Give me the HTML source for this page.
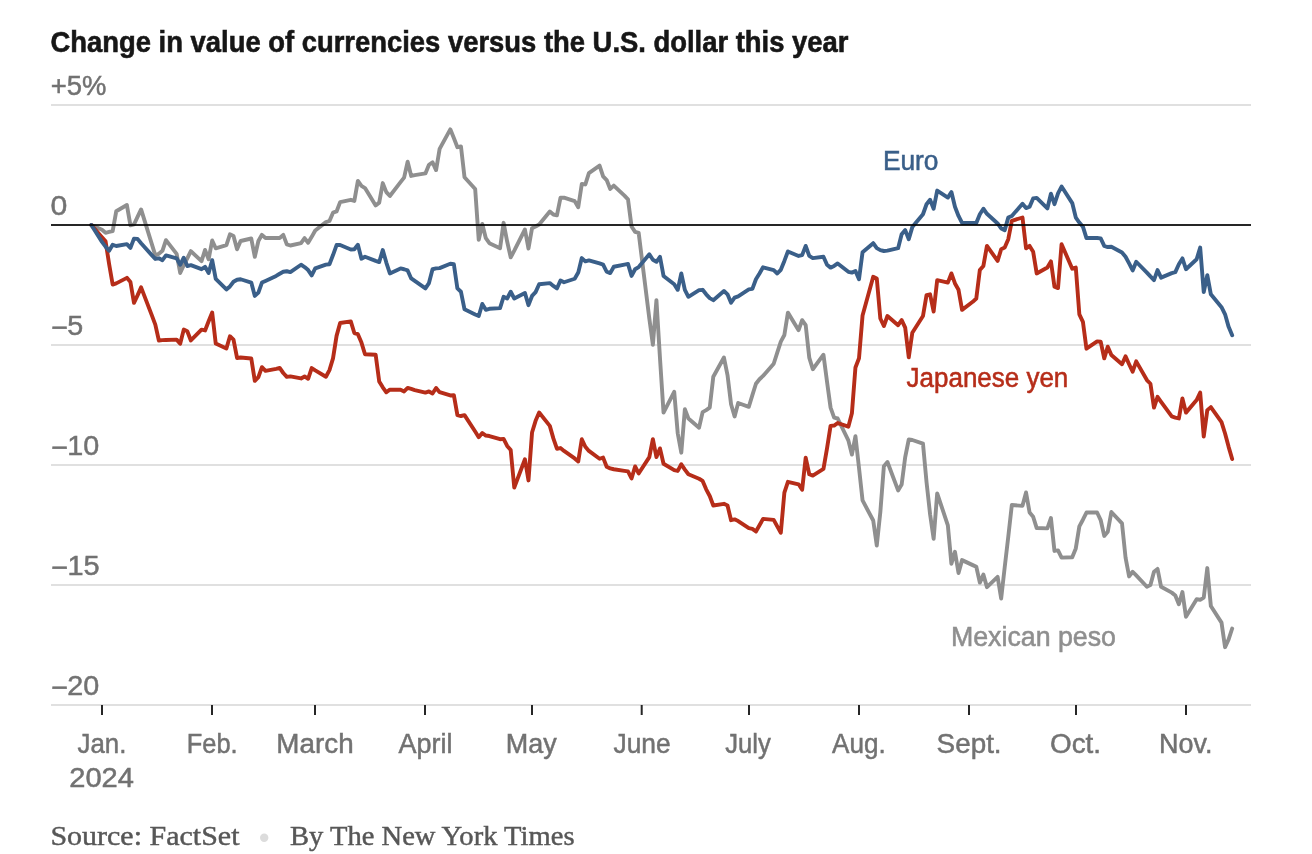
<!DOCTYPE html>
<html><head><meta charset="utf-8"><title>Change in value of currencies versus the U.S. dollar this year</title>
<style>
html,body{margin:0;padding:0;background:#fff;}
body{width:1312px;height:854px;overflow:hidden;font-family:"Liberation Sans",sans-serif;}
svg{display:block;position:absolute;left:0;top:0;}
text{font-family:"Liberation Sans",sans-serif;}
.serif{font-family:"Liberation Serif",serif;}
.ax{fill:#727272;stroke:#727272;stroke-width:0.5;}
.ln{fill:none;stroke-width:3.9;stroke-linejoin:round;stroke-linecap:round;}
</style></head><body>
<svg width="1312" height="854" viewBox="0 0 1312 854">
<rect width="1312" height="854" fill="#ffffff"/>
<text transform="translate(50.50,51.9) scale(0.9356,1)" font-size="29.3" fill="#161616" font-weight="700" stroke="#161616" stroke-width="0.6">Change in value of currencies versus the U.S. dollar this year</text>
<rect x="51" y="104" width="1200" height="2" fill="#e0e0e0"/>
<rect x="51" y="344" width="1200" height="2" fill="#e0e0e0"/>
<rect x="51" y="464" width="1200" height="2" fill="#e0e0e0"/>
<rect x="51" y="584" width="1200" height="2" fill="#e0e0e0"/>
<rect x="51" y="704" width="1200" height="2" fill="#e0e0e0"/>
<text class="ax" transform="translate(50.63,95.1) scale(0.9690,1)" font-size="28.3">+5%</text>
<text class="ax" transform="translate(50.59,215.1) scale(1.0674,1)" font-size="28.3">0</text>
<text class="ax" transform="translate(50.57,335.1) scale(1.0130,1)" font-size="28.3"><tspan dx="0.6" dy="1.9">−</tspan><tspan dx="-0.6" dy="-1.9">5</tspan></text>
<text class="ax" transform="translate(50.56,455.1) scale(1.0162,1)" font-size="28.3"><tspan dx="0.6" dy="1.9">−</tspan><tspan dx="-0.6" dy="-1.9">10</tspan></text>
<text class="ax" transform="translate(50.55,575.1) scale(1.0225,1)" font-size="28.3"><tspan dx="0.6" dy="1.9">−</tspan><tspan dx="-0.6" dy="-1.9">15</tspan></text>
<text class="ax" transform="translate(50.56,695.1) scale(1.0162,1)" font-size="28.3"><tspan dx="0.6" dy="1.9">−</tspan><tspan dx="-0.6" dy="-1.9">20</tspan></text>
<rect x="101" y="705" width="2" height="10" fill="#262626"/>
<rect x="211" y="705" width="2" height="10" fill="#262626"/>
<rect x="314" y="705" width="2" height="10" fill="#262626"/>
<rect x="424" y="705" width="2" height="10" fill="#262626"/>
<rect x="531" y="705" width="2" height="10" fill="#262626"/>
<rect x="640.7" y="705" width="2" height="10" fill="#262626"/>
<rect x="748" y="705" width="2" height="10" fill="#262626"/>
<rect x="858" y="705" width="2" height="10" fill="#262626"/>
<rect x="968" y="705" width="2" height="10" fill="#262626"/>
<rect x="1075" y="705" width="2" height="10" fill="#262626"/>
<rect x="1185" y="705" width="2" height="10" fill="#262626"/>
<text class="ax" transform="translate(77.48,752.6) scale(0.9397,1)" font-size="27.5">Jan.</text>
<text class="ax" transform="translate(186.77,752.6) scale(0.9240,1)" font-size="27.5">Feb.</text>
<text class="ax" transform="translate(276.37,752.6) scale(1.0121,1)" font-size="27.5">March</text>
<text class="ax" transform="translate(398.40,752.6) scale(0.9816,1)" font-size="27.5">April</text>
<text class="ax" transform="translate(505.84,752.6) scale(0.9804,1)" font-size="27.5">May</text>
<text class="ax" transform="translate(613.47,752.6) scale(0.9593,1)" font-size="27.5">June</text>
<text class="ax" transform="translate(725.29,752.6) scale(0.9330,1)" font-size="27.5">July</text>
<text class="ax" transform="translate(832.10,752.6) scale(0.9488,1)" font-size="27.5">Aug.</text>
<text class="ax" transform="translate(936.61,752.6) scale(1.0129,1)" font-size="27.5">Sept.</text>
<text class="ax" transform="translate(1050.01,752.6) scale(1.0113,1)" font-size="27.5">Oct.</text>
<text class="ax" transform="translate(1159.04,752.6) scale(0.9804,1)" font-size="27.5">Nov.</text>
<text class="ax" transform="translate(69.25,786.9) scale(1.0569,1)" font-size="27.5">2024</text>
<path class="ln" stroke="#8f8f8f" d="M91.34,225 L102,229.85 L105.56,232.86 L109.11,231.98 L112.66,231.1 L116.22,211.3 L126.88,205.04 L130.43,225.34 L133.99,224.46 L137.54,216.94 L141.1,209.42 L151.76,243.88 L155.31,255.41 L158.87,253.66 L162.42,250.78 L165.97,240.13 L176.64,253.91 L180.19,272.96 L183.74,265.19 L187.3,258.3 L190.85,251.15 L201.51,261.18 L205.07,249.9 L208.62,259.3 L212.18,240.5 L215.73,248.27 L226.39,245.14 L229.95,234.34 L233.5,236.01 L237.05,249.36 L240.61,241.01 L251.27,238.51 L254.82,256.87 L258.38,241.01 L261.93,234.84 L265.49,238.01 L276.15,238.01 L279.7,238.01 L283.26,234.84 L286.81,244.35 L290.36,245.52 L301.03,243.18 L304.58,238.18 L308.13,242.68 L311.69,236.84 L315.24,230.5 L325.9,222.15 L329.46,220.98 L333.01,212.64 L336.57,211.47 L340.12,202.12 L350.78,199.79 L354.34,200.95 L357.89,180.92 L361.44,185.93 L365,188.1 L375.66,205.46 L379.21,202.62 L382.77,183.09 L386.32,192.11 L389.88,195.95 L400.54,182.09 L404.09,177.59 L407.65,161.73 L411.2,175.92 L414.75,175.08 L425.42,173.41 L428.97,164.73 L432.52,162.23 L436.08,170.08 L439.63,148.88 L450.29,129.35 L453.85,138.03 L457.4,147.21 L460.96,146.38 L464.51,177.26 L475.17,188.94 L478.73,239.85 L482.28,223.99 L485.83,238.18 L489.39,243.19 L500.05,248.2 L503.6,222.82 L507.16,241.52 L510.71,257.38 L514.27,250.7 L524.93,229.5 L528.48,248.53 L532.04,228.17 L535.59,226.5 L539.14,224.49 L549.81,211.47 L553.36,214.48 L556.91,215.31 L560.47,197.79 L564.02,197.62 L574.68,201.12 L578.24,207.3 L581.79,183.93 L585.35,184.43 L588.9,173.08 L599.56,165.57 L603.12,176.42 L606.67,180.09 L610.22,188.94 L613.78,185.6 L624.44,195.62 L627.99,199.29 L631.55,226.5 L635.1,231.84 L638.66,232.84 L649.32,318.47 L652.87,344.85 L656.43,300.11 L659.98,358.06 L663.53,412.64 L674.2,391.77 L677.75,433.5 L681.3,452.7 L684.86,409.3 L688.41,418.48 L699.07,427.66 L702.63,412.14 L706.18,410.14 L709.74,407.63 L713.29,376.75 L723.95,357.56 L727.51,375.08 L731.06,404.29 L734.61,416.48 L738.17,402.96 L748.83,406.8 L752.38,395.11 L755.94,383.76 L759.49,379.26 L763.05,375.92 L773.71,363.73 L777.26,352.55 L780.82,341.7 L784.37,335.02 L787.92,312.63 L798.59,330.16 L802.14,320.14 L805.69,325.15 L809.25,357.56 L812.8,369.24 L823.46,354.72 L827.02,381.76 L830.57,407.63 L834.13,417.65 L837.68,418.48 L848.34,440.35 L851.9,454.53 L855.45,436.17 L859,467.89 L862.56,500.44 L873.22,520.47 L876.77,545.5 L880.33,512.12 L883.88,466.22 L887.44,462.05 L898.1,490.42 L901.65,484.58 L905.21,457.04 L908.76,439.51 L912.31,440.01 L922.98,443.68 L926.53,482.08 L930.08,514.2 L933.64,538.74 L937.19,493.34 L947.85,525.39 L951.41,563.78 L954.96,551.76 L958.52,572.96 L962.07,560.11 L972.73,565.11 L976.29,566.78 L979.84,582.64 L983.39,574.63 L986.95,587.15 L997.61,576.8 L1001.16,598.5 L1004.72,567.12 L1008.27,536.74 L1011.83,505.02 L1022.49,505.86 L1026.04,492.5 L1029.6,512.53 L1033.15,516.71 L1036.7,528.06 L1047.37,528.39 L1050.92,518.04 L1054.47,550.92 L1058.03,550.42 L1061.58,557.6 L1072.24,557.27 L1075.8,548.42 L1079.35,526.39 L1082.91,519.71 L1086.46,512.53 L1097.12,512.53 L1100.68,520.05 L1104.23,535.9 L1107.78,531.73 L1111.34,512.03 L1122,523.38 L1125.55,557.6 L1129.11,576.42 L1132.66,571.74 L1136.22,575.42 L1146.88,586.77 L1150.43,585.1 L1153.99,571.74 L1157.54,568.91 L1161.09,586.77 L1171.76,592.61 L1175.31,595.45 L1178.86,604.29 L1182.42,592.11 L1185.97,616.81 L1196.63,599.29 L1200.19,599.79 L1203.74,597.62 L1207.3,568.07 L1210.85,605.96 L1221.51,622.65 L1225.07,647.19 L1228.62,639.35 L1232.17,628.5"/>
<path class="ln" stroke="#b62d19" d="M91.34,225 L102,237.24 L105.56,241.25 L109.11,263.93 L112.66,284.53 L116.22,283.37 L126.88,277.86 L130.43,282.03 L133.99,302.89 L137.54,295.38 L141.1,287.37 L151.76,315.08 L155.31,324.59 L158.87,340.45 L162.42,340.12 L165.97,339.95 L176.64,339.62 L180.19,343.79 L183.74,329.6 L187.3,331.27 L190.85,340.45 L201.51,329.6 L205.07,330.44 L208.62,321.26 L212.18,312.58 L215.73,343.46 L226.39,348.46 L229.95,336.28 L233.5,339.62 L237.05,357.98 L240.61,357.48 L251.27,358.48 L254.82,380.84 L258.38,377.17 L261.93,367.16 L265.49,370.83 L276.15,368.83 L279.7,367.99 L283.26,373 L286.81,376.84 L290.36,376.34 L301.03,378.45 L304.58,376.45 L308.13,378.78 L311.69,368.1 L315.24,370.44 L325.9,376.78 L329.46,370.11 L333.01,358.42 L336.57,335.89 L340.12,323.03 L350.78,321.37 L354.34,333.05 L357.89,334.22 L361.44,342.56 L365,354.25 L375.66,354.75 L379.21,381.46 L382.77,387.3 L386.32,392.31 L389.88,389.63 L400.54,389.8 L404.09,391.47 L407.65,387.97 L411.2,388.97 L414.75,390.14 L425.42,392.64 L428.97,391.47 L432.52,393.47 L436.08,387.97 L439.63,392.14 L450.29,395.48 L453.85,395.14 L457.4,415.17 L460.96,416.01 L464.51,415.17 L475.17,431.53 L478.73,437.21 L482.28,433.03 L485.83,435.54 L489.39,436.04 L500.05,439.23 L503.6,438.89 L507.16,445.9 L510.71,450.08 L514.27,487.63 L524.93,459.26 L528.48,480.45 L532.04,432.55 L535.59,420.86 L539.14,412.52 L549.81,425.87 L553.36,438.39 L556.91,448.74 L560.47,448.07 L564.02,450.91 L574.68,458.42 L578.24,461.43 L581.79,439.23 L585.35,446.74 L588.9,450.91 L599.56,458.75 L603.12,457.59 L606.67,466.77 L610.22,468.44 L613.78,469.27 L624.44,470.94 L627.99,471.44 L631.55,478.45 L635.1,466.43 L638.66,473.44 L649.32,457.09 L652.87,439.23 L656.43,457.09 L659.98,448.41 L663.53,463.76 L674.2,470.11 L677.75,470.94 L681.3,464.26 L684.86,469.6 L688.41,474.28 L699.07,478.78 L702.63,480.95 L706.18,489.3 L709.74,495.98 L713.29,505.49 L723.95,503.82 L727.51,505.49 L731.06,520.18 L734.61,519.35 L738.17,521.01 L748.83,528.19 L752.38,528.86 L755.94,531.53 L759.49,525.19 L763.05,518.84 L773.71,519.85 L777.26,526.36 L780.82,532.7 L784.37,492.64 L787.92,481.79 L798.59,484.29 L802.14,489.8 L805.69,457.59 L809.25,474.28 L812.8,475.61 L823.46,468.94 L827.02,448.41 L830.57,425.87 L834.13,425.54 L837.68,423.03 L848.34,426.71 L851.9,413.35 L855.45,367.45 L859,358.22 L862.56,315.49 L873.22,276.77 L876.77,278.44 L880.33,318.5 L883.88,326.01 L887.44,315.99 L898.1,325.17 L901.65,320.17 L905.21,327.68 L908.76,357.39 L912.31,332.68 L922.98,315.99 L926.53,295.13 L930.08,294.29 L933.64,311.49 L937.19,280.11 L947.85,282.61 L951.41,273.43 L954.96,283.44 L958.52,289.79 L962.07,309.82 L972.73,301.8 L976.29,298.47 L979.84,270.09 L983.39,265.92 L986.95,245.89 L997.61,260.91 L1001.16,249.23 L1004.72,247.56 L1008.27,239.21 L1011.83,220.85 L1022.49,217.51 L1026.04,248.39 L1029.6,245.89 L1033.15,251.73 L1036.7,273.43 L1047.37,267.56 L1050.92,261.38 L1054.47,286.75 L1058.03,288.09 L1061.58,244.19 L1072.24,268.72 L1075.8,267.56 L1079.35,314.29 L1082.91,321.8 L1086.46,348.69 L1097.12,341.35 L1100.68,341.68 L1104.23,358.38 L1107.78,346.69 L1111.34,355.04 L1122,364.22 L1125.55,356.37 L1129.11,364.22 L1132.66,371.73 L1136.22,361.38 L1146.88,380.08 L1150.43,383.75 L1153.99,407.62 L1157.54,396.77 L1161.09,401.77 L1171.76,416.46 L1175.31,417.63 L1178.86,418.47 L1182.42,398.44 L1185.97,412.62 L1196.63,400.11 L1200.19,392.59 L1203.74,436.49 L1207.3,410.12 L1210.85,407.12 L1221.51,422.14 L1225.07,433.49 L1228.62,446.84 L1232.17,459.03"/>
<path class="ln" stroke="#3a5f89" d="M91.34,225 L102,241.88 L105.56,246.64 L109.11,250.78 L112.66,244.76 L116.22,246.02 L126.88,244.14 L130.43,247.89 L133.99,238.62 L137.54,238.87 L141.1,243.26 L151.76,255.16 L155.31,258.92 L158.87,258.3 L162.42,260.18 L165.97,255.41 L176.64,258.3 L180.19,264.81 L183.74,257.67 L187.3,266.07 L190.85,265.19 L201.51,269.2 L205.07,266.82 L208.62,272.96 L212.18,260.18 L215.73,278.97 L226.39,289.37 L229.95,286.44 L233.5,281.77 L237.05,279.76 L240.61,279.26 L251.27,282.6 L254.82,295.95 L258.38,292.62 L261.93,282.6 L265.49,280.93 L276.15,275.92 L279.7,273.75 L283.26,271.75 L286.81,271.25 L290.36,272.09 L301.03,264.74 L304.58,267.08 L308.13,270.08 L311.69,275.42 L315.24,268.41 L325.9,264.57 L329.46,264.24 L333.01,255.06 L336.57,245.05 L340.12,245.05 L350.78,249.55 L354.34,249.22 L357.89,244.71 L361.44,258.73 L365,256.73 L375.66,260.9 L379.21,262.07 L382.77,250.05 L386.32,262.57 L389.88,273.42 L400.54,268.41 L404.09,269.25 L407.65,270.42 L411.2,278.43 L414.75,280.93 L425.42,288.44 L428.97,283.1 L432.52,269.25 L436.08,268.41 L439.63,268.08 L450.29,263.74 L453.85,264.24 L457.4,288.44 L460.96,291.78 L464.51,309.31 L475.17,314.48 L478.73,315.98 L482.28,303.97 L485.83,309.81 L489.39,308.81 L500.05,308.14 L503.6,296.79 L507.16,298.46 L510.71,291.78 L514.27,298.46 L524.93,292.95 L528.48,305.14 L532.04,295.95 L535.59,292.12 L539.14,284.27 L549.81,283.1 L553.36,285.94 L556.91,288.44 L560.47,280.43 L564.02,282.27 L574.68,278.76 L578.24,272.59 L581.79,258.06 L585.35,261.4 L588.9,260.4 L599.56,263.41 L603.12,264.57 L606.67,271.75 L610.22,273.09 L613.78,266.74 L624.44,264.57 L627.99,263.91 L631.55,275.92 L635.1,269.25 L638.66,267.08 L649.32,254.26 L652.87,259.77 L656.43,261.77 L659.98,256.77 L663.53,275.96 L674.2,284.31 L677.75,289.82 L681.3,273.46 L684.86,289.82 L688.41,296.83 L699.07,290.15 L702.63,289.82 L706.18,294.32 L709.74,298.16 L713.29,300.17 L723.95,290.98 L727.51,294.32 L731.06,302.67 L734.61,297.66 L738.17,296.33 L748.83,289.32 L752.38,288.81 L755.94,279.3 L759.49,273.46 L763.05,267.28 L773.71,270.12 L777.26,273.46 L780.82,269.79 L784.37,260.94 L787.92,251.43 L798.59,255.93 L802.14,255.1 L805.69,245.92 L809.25,255.93 L812.8,258.1 L823.46,256.77 L827.02,264.78 L830.57,267.62 L834.13,265.95 L837.68,263.44 L848.34,271.79 L851.9,272.62 L855.45,270.95 L859,279.3 L862.56,252.15 L873.22,243.14 L876.77,248.15 L880.33,250.15 L883.88,250.98 L887.44,250.65 L898.1,248.15 L901.65,234.29 L905.21,230.12 L908.76,239.3 L912.31,227.12 L922.98,214.26 L926.53,204.25 L930.08,199.74 L933.64,208.75 L937.19,190.56 L947.85,197.57 L951.41,192.06 L954.96,206.75 L958.52,215.93 L962.07,222.94 L972.73,222.94 L976.29,222.94 L979.84,214.26 L983.39,208.75 L986.95,213.76 L997.61,223.44 L1001.16,228.45 L1004.72,230.12 L1008.27,217.6 L1011.83,215.93 L1022.49,203.75 L1026.04,208.09 L1029.6,206.75 L1033.15,198.41 L1036.7,197.91 L1047.37,208.42 L1050.92,193.73 L1054.47,204.25 L1058.03,193.4 L1061.58,186.55 L1072.24,203.08 L1075.8,217.52 L1079.35,222.53 L1082.91,226.7 L1086.46,238.05 L1097.12,238.05 L1100.68,238.38 L1104.23,245.89 L1107.78,247.06 L1111.34,246.73 L1122,252.57 L1125.55,256.74 L1129.11,263.42 L1132.66,270.43 L1136.22,261.75 L1146.88,272.6 L1150.43,276.44 L1153.99,280.11 L1157.54,270.1 L1161.09,277.61 L1171.76,273.1 L1175.31,272.1 L1178.86,264.26 L1182.42,258.41 L1185.97,269.26 L1196.63,259.25 L1200.19,247.56 L1203.74,292.13 L1207.3,275.11 L1210.85,294.3 L1221.51,307.15 L1225.07,314.33 L1228.62,326.85 L1232.17,335.2"/>
<rect x="51" y="224" width="1200" height="2" fill="#262626" style="mix-blend-mode:multiply"/>
<text transform="translate(882.89,170.1) scale(0.9540,1)" font-size="27.6" fill="#3a5f89" stroke="#3a5f89" stroke-width="0.55">Euro</text>
<text transform="translate(906.58,387.4) scale(0.9621,1)" font-size="27.0" fill="#b62d19" stroke="#b62d19" stroke-width="0.55">Japanese yen</text>
<text transform="translate(950.96,645.5) scale(0.9838,1)" font-size="27.2" fill="#8f8f8f" stroke="#8f8f8f" stroke-width="0.55">Mexican peso</text>
<text class="serif" transform="translate(50.40,844.9) scale(1.0797,1)" font-size="27.8" fill="#575757" stroke="#575757" stroke-width="0.45">Source: FactSet</text>
<circle cx="264.2" cy="837.7" r="4.2" fill="#dcdcdc"/>
<text class="serif" transform="translate(289.94,844.9) scale(1.0286,1)" font-size="27.8" fill="#575757" stroke="#575757" stroke-width="0.45">By The New York Times</text>
</svg>
</body></html>
